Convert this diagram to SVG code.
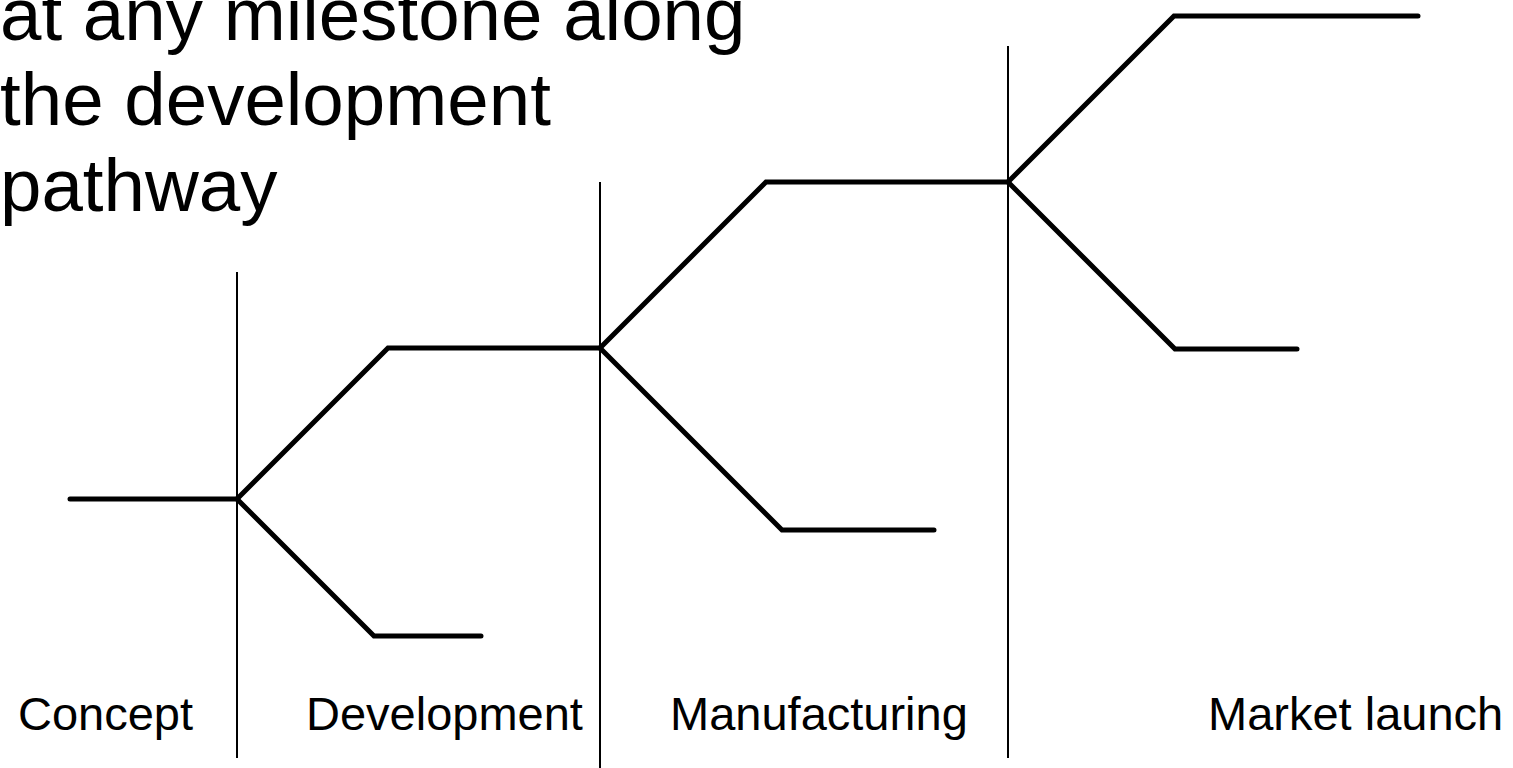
<svg xmlns="http://www.w3.org/2000/svg" width="1513" height="768" viewBox="0 0 1513 768">
<style>
.bg{fill:#ffffff}
.title{font-family:"Liberation Sans",Arial,sans-serif;font-size:74.5px;fill:#000}
.label{font-family:"Liberation Sans",Arial,sans-serif;font-size:47px;fill:#000}
.divider{stroke:#000;stroke-width:2;fill:none}
.path{stroke:#000;stroke-width:5;fill:none;stroke-linecap:round;stroke-linejoin:miter}
</style>
<rect class="bg" x="0" y="0" width="1513" height="768"/>
<g id="title">
<text class="title" x="0" y="40">at any milestone along</text>
<text class="title" x="0" y="125">the development</text>
<text class="title" x="0" y="211">pathway</text>
</g>
<g id="dividers">
<line class="divider" x1="237" y1="272" x2="237" y2="758"/>
<line class="divider" x1="600" y1="182" x2="600" y2="768"/>
<line class="divider" x1="1008" y1="46" x2="1008" y2="758"/>
</g>
<g id="connectors">
<path class="path" d="M70,499 H237"/>
<path class="path" d="M237,499 L388,348 H600"/>
<path class="path" d="M237,499 L374,636 H481"/>
<path class="path" d="M600,348 L766,182 H1008"/>
<path class="path" d="M600,348 L782,530 H934"/>
<path class="path" d="M1008,182 L1174,16 H1418"/>
<path class="path" d="M1008,182 L1175,349 H1297"/>
</g>
<g id="stage-concept"><text class="label" x="18" y="730">Concept</text></g>
<g id="stage-development"><text class="label" x="306" y="730">Development</text></g>
<g id="stage-manufacturing"><text class="label" x="670" y="730">Manufacturing</text></g>
<g id="stage-market-launch"><text class="label" x="1208" y="730">Market launch</text></g>
</svg>
